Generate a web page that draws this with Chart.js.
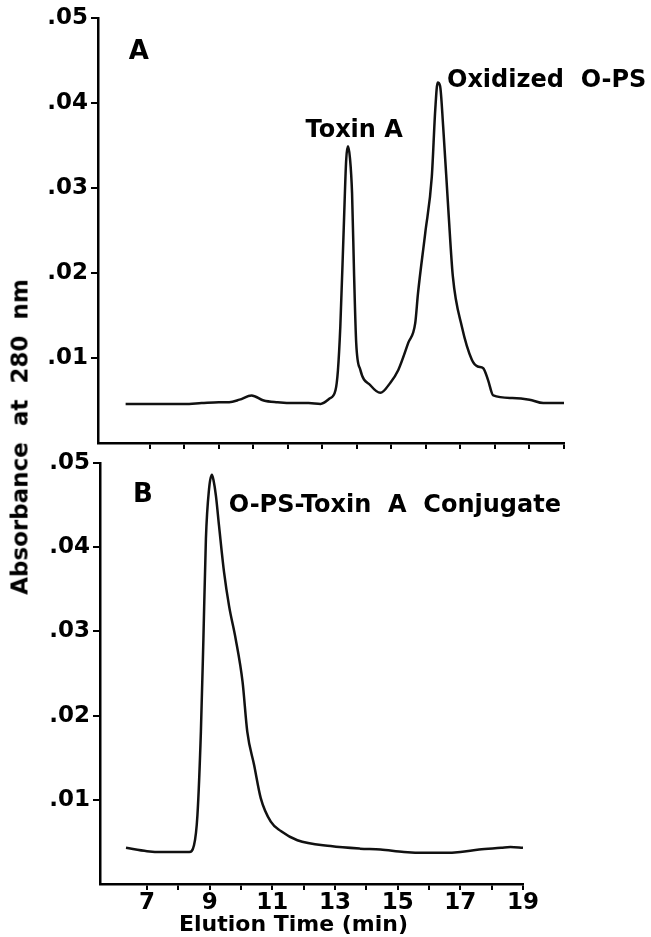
<!DOCTYPE html>
<html>
<head>
<meta charset="utf-8">
<script src="https://cdn.jsdelivr.net/npm/chart.js@4"></script>
<style>
  body { margin: 0; background: #fff; }
  #page { position: relative; width: 651px; height: 937px; overflow: hidden; background: #fff; }
  canvas { position: absolute; left: 0; }
  .lbl { position: absolute; font-family: "DejaVu Sans", sans-serif; font-weight: bold; font-size: 23px; line-height: 23px; color: #000; white-space: pre; }
  #yTitle { left: 20px; top: 437px; transform: translate(-50%, -50%) rotate(-90deg); }
  #xTitle { left: 179px; top: 913px; font-size: 22px; line-height: 22px; }
</style>
</head>
<body>
<div id="page">
  <canvas id="chartA" width="651" height="470" style="top:0"></canvas>
  <canvas id="chartB" width="651" height="497" style="top:440px"></canvas>
  <div class="lbl" id="yTitle">Absorbance  at  280  nm</div>
  <div class="lbl" id="xTitle">Elution Time (min)</div>
</div>
<script>
// panel A: toxin A and oxidized O-PS
const timeA = [6.3, 7.0, 8.0, 8.5, 9.0, 9.3, 9.6, 9.95, 10.3, 10.7, 11.2, 11.6, 11.95, 12.2, 12.38, 12.45,
  12.52, 12.62, 12.69, 12.74, 12.8, 12.86, 12.92, 12.98, 13.1, 13.39, 13.68, 13.97, 14.2, 14.49, 14.69,
  14.77, 14.98, 15.17, 15.27, 15.34, 15.41, 15.5, 15.65, 15.78, 16.04, 16.33, 16.5, 16.66, 16.8, 16.95,
  17.5, 18.0, 18.4, 19.0];
const absA = [0.0046, 0.0046, 0.0046, 0.0047, 0.0048, 0.0048, 0.0051, 0.0056, 0.0050, 0.0048, 0.0047, 0.0047,
  0.0046, 0.0052, 0.0062, 0.0085, 0.0137, 0.0254, 0.0333, 0.0349, 0.0335, 0.0294, 0.0196, 0.0118, 0.0086,
  0.0068, 0.0059, 0.0071, 0.0086, 0.0118, 0.0141, 0.0176, 0.0247, 0.0313, 0.0392, 0.0424, 0.0420, 0.0372,
  0.0274, 0.0196, 0.0137, 0.0098, 0.0090, 0.0088, 0.0074, 0.0056, 0.0053, 0.0051, 0.0047, 0.0047];

// panel B: conjugate
const timeB = [6.33, 7.0, 7.5, 8.0, 8.35, 8.5, 8.61, 8.72, 8.8, 8.88, 8.98, 9.07, 9.12, 9.2, 9.3, 9.46, 9.62,
  9.83, 10.05, 10.2, 10.42, 10.63, 10.95, 11.27, 11.8, 12.86, 13.8, 14.45, 15.2, 15.9, 16.5, 17.0, 17.6,
  18.3, 18.6, 19.0];
const absB = [0.0043, 0.0039, 0.0038, 0.0038, 0.0038, 0.0046, 0.0082, 0.0181, 0.0291, 0.0410, 0.0469, 0.0486,
  0.0480, 0.0461, 0.0425, 0.0370, 0.0330, 0.0291, 0.0240, 0.0181, 0.0141, 0.0102, 0.0074, 0.0063, 0.0052,
  0.0045, 0.0042, 0.0041, 0.0038, 0.0037, 0.0037, 0.0038, 0.0041, 0.0043, 0.0044, 0.0043];

const xTicks = [7, 8, 9, 10, 11, 12, 13, 14, 15, 16, 17, 18, 19];
const yTicks = [0.01, 0.02, 0.03, 0.04, 0.05];

const labelsA = [
  { text: 'A', x: 6.39, y: 0.0452, size: 26 },
  { text: 'Toxin A', x: 11.51, y: 0.0360, size: 24 },
  { text: 'Oxidized  O-PS', x: 15.61, y: 0.0419, size: 24 }
];
const labelsB = [
  { text: 'B', x: 6.55, y: 0.0454, size: 26 },
  { text: 'O-PS-Toxin  A  Conjugate', x: 9.61, y: 0.0442, size: 24 }
];

const FONT = '"DejaVu Sans", sans-serif';

// text labels placed in data coordinates
const peakLabels = {
  id: 'peakLabels',
  afterDatasetsDraw(chart, args, opts) {
    const ctx = chart.ctx;
    ctx.save();
    ctx.fillStyle = '#000';
    ctx.textBaseline = 'alphabetic';
    ctx.textAlign = 'left';
    for (const l of opts.items) {
      ctx.font = 'bold ' + l.size + 'px ' + FONT;
      ctx.fillText(l.text, chart.scales.x.getPixelForValue(l.x), chart.scales.y.getPixelForValue(l.y));
    }
    ctx.restore();
  }
};

function makePanel(id, times, values, labels, opt) {
  const pts = times.map((t, i) => ({ x: t, y: values[i] }));
  return new Chart(document.getElementById(id), {
    type: 'line',
    data: {
      datasets: [{
        data: pts,
        borderColor: '#111',
        borderWidth: 2.5,
        pointRadius: 0,
        cubicInterpolationMode: 'monotone',
        fill: false
      }]
    },
    options: {
      responsive: false,
      animation: false,
      devicePixelRatio: 1,
      layout: { padding: { left: 0, top: opt.top, right: opt.right, bottom: 0 } },
      plugins: {
        legend: { display: false },
        tooltip: { enabled: false },
        peakLabels: { items: labels }
      },
      scales: {
        x: {
          type: 'linear',
          min: 5.5,
          max: 19,
          afterBuildTicks: s => { s.ticks = xTicks.map(v => ({ value: v })); },
          afterFit: s => { s.height = opt.xHeight; },
          ticks: {
            autoSkip: false,
            maxRotation: 0,
            padding: -1,
            color: '#000',
            font: { family: FONT, weight: 'bold', size: 23 },
            callback: v => (opt.xLabels && v % 2 === 1) ? String(v) : ''
          },
          grid: { drawOnChartArea: false, drawTicks: true, tickLength: 6, color: '#000', lineWidth: 2 },
          border: { color: '#000', width: 2.5 }
        },
        y: {
          min: 0,
          max: 0.05,
          afterBuildTicks: s => { s.ticks = yTicks.map(v => ({ value: v })); },
          afterFit: s => { s.width = opt.yWidth; },
          ticks: {
            padding: 3,
            color: '#000',
            font: { family: FONT, weight: 'bold', size: 23 },
            callback: v => v.toFixed(2).slice(1)
          },
          grid: { drawOnChartArea: false, drawTicks: true, tickLength: 7, color: '#000', lineWidth: 2 },
          border: { color: '#000', width: 2.5 }
        }
      }
    },
    plugins: [peakLabels]
  });
}

makePanel('chartA', timeA, absA, labelsA, { top: 18, right: 87, xHeight: 27, yWidth: 98, xLabels: false });
makePanel('chartB', timeB, absB, labelsB, { top: 23, right: 128, xHeight: 53, yWidth: 100, xLabels: true });
</script>
</body>
</html>
